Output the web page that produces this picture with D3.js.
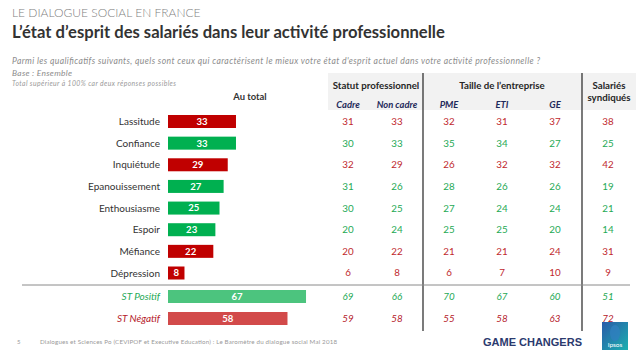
<!DOCTYPE html>
<html><head><meta charset="utf-8">
<script src="https://cdn.jsdelivr.net/npm/d3@7"></script>
<style>
body{margin:0;background:#fff;}
svg{display:block;font-family:Lato,"Open Sans",sans-serif;}
</style></head>
<body>
<script>
const categories = ["Lassitude","Confiance","Inquiétude","Epanouissement","Enthousiasme","Espoir","Méfiance","Dépression"];
const polarity = ["neg","pos","neg","pos","pos","pos","neg","neg"];
const totals = [33,33,29,27,25,23,22,8];
const columns = ["Cadre","Non cadre","PME","ETI","GE","Syndiqués"];
const tableValues = [
  [31,33,32,31,37,38],
  [30,33,35,34,27,25],
  [32,29,26,32,32,42],
  [31,26,28,26,26,19],
  [30,25,27,24,24,21],
  [20,24,25,25,20,14],
  [20,22,21,21,24,31],
  [6,8,6,7,10,9]
];
const stCategories = ["ST Positif","ST Négatif"];
const stPolarity = ["pos","neg"];
const stTotals = [67,58];
const stValues = [
  [69,66,70,67,60,51],
  [59,58,55,58,63,72]
];

const W=638,H=359;
const svg=d3.select("body").append("svg").attr("width",W).attr("height",H);

const RED="#c00000", GREEN="#00b050", STGREEN="#4cc47e", STRED="#d24a4a";
const colBar = p => p==="neg"?RED:GREEN;
const colTxt = p => p==="neg"?"#c0282d":"#1ea955";

// titles
svg.append("text").attr("x",12).attr("y",17).attr("font-size",12).attr("fill","#7f7f7f").attr("font-weight",300)
  .text("LE DIALOGUE SOCIAL EN FRANCE");
svg.append("text").attr("x",12).attr("y",38).attr("font-size",16.6).attr("font-weight",700).attr("fill","#333")
  .text("L’état d’esprit des salariés dans leur activité professionnelle");
svg.append("text").attr("x",12).attr("y",64).attr("font-size",8.6).attr("font-style","italic").attr("fill","#8c8c8c")
  .attr("textLength",528).attr("lengthAdjust","spacing")
  .text("Parmi les qualificatifs suivants, quels sont ceux qui caractérisent le mieux votre état d'esprit actuel dans votre activité professionnelle ?");
svg.append("text").attr("x",12).attr("y",75.5).attr("font-size",8.4).attr("font-style","italic").attr("fill","#8c8c8c")
  .attr("textLength",60).attr("lengthAdjust","spacing").text("Base : Ensemble");
svg.append("text").attr("x",12).attr("y",85.5).attr("font-size",6.8).attr("font-style","italic").attr("fill","#9a9a9a")
  .attr("textLength",164).attr("lengthAdjust","spacing")
  .text("Total supérieur à 100% car deux réponses possibles");

// scales
const x = d3.scaleLinear().domain([0,100]).range([168,374]);
const y = d3.scalePoint().domain(categories).range([121.5,273]);
const yST = d3.scalePoint().domain(stCategories).range([296.5,318.5]);
const colX = d3.scaleOrdinal().domain(columns).range([348,397,449,502,555,608]);
const barH = 13;

// header
svg.append("rect").attr("x",328).attr("y",73).attr("width",308).attr("height",37).attr("fill","#f2f2f2");
svg.append("text").attr("x",250).attr("y",100).attr("text-anchor","middle").attr("font-size",9.4).attr("font-weight",700).attr("fill","#333").text("Au total");
const hdr=[["Statut professionnel",376,89],["Taille de l’entreprise",502,89],["Salariés",609,89],["syndiqués",609,101]];
svg.selectAll(".hdr").data(hdr).join("text").attr("x",d=>d[1]).attr("y",d=>d[2]).attr("text-anchor","middle")
  .attr("font-size",9.7).attr("font-weight",700).attr("fill","#262626").text(d=>d[0]);
svg.selectAll(".sub").data(columns.slice(0,5)).join("text").attr("x",d=>colX(d)).attr("y",107.5).attr("text-anchor","middle")
  .attr("font-size",9.4).attr("font-weight",700).attr("font-style","italic").attr("fill","#1f2a5a").text(d=>d);

// lines
[423,582].forEach(lx=>svg.append("line").attr("x1",lx).attr("x2",lx).attr("y1",73).attr("y2",331).attr("stroke","#222").attr("stroke-width",1.2));
svg.append("line").attr("x1",22).attr("x2",630).attr("y1",285).attr("y2",285).attr("stroke","#8a8a8a").attr("stroke-width",1);

// main rows
const g=svg.append("g");
categories.forEach((c,i)=>{
  const cy=y(c);
  g.append("text").attr("x",160).attr("y",cy).attr("dy","0.35em").attr("text-anchor","end").attr("font-size",10).attr("fill","#333").text(c);
  g.append("rect").attr("x",x(0)).attr("y",cy-barH/2).attr("width",x(totals[i])-x(0)).attr("height",barH).attr("fill",colBar(polarity[i]));
  g.append("text").attr("x",(x(0)+x(totals[i]))/2).attr("y",cy).attr("dy","0.35em").attr("text-anchor","middle")
    .attr("font-size",9.6).attr("font-weight",700).attr("fill","#fff").text(totals[i]);
  tableValues[i].forEach((v,j)=>{
    g.append("text").attr("x",colX(columns[j])).attr("y",cy).attr("dy","0.35em").attr("text-anchor","middle")
      .attr("font-size",9.8).attr("fill",colTxt(polarity[i])).text(v);
  });
});

// ST rows
stCategories.forEach((c,i)=>{
  const cy=yST(c);
  const tc = stPolarity[i]==="pos"?"#1ea955":"#b5202a";
  g.append("text").attr("x",160).attr("y",cy).attr("dy","0.35em").attr("text-anchor","end").attr("font-size",10).attr("font-style","italic").attr("fill",tc).text(c);
  g.append("rect").attr("x",x(0)).attr("y",cy-barH/2).attr("width",x(stTotals[i])-x(0)).attr("height",barH).attr("fill",stPolarity[i]==="pos"?STGREEN:STRED);
  g.append("text").attr("x",(x(0)+x(stTotals[i]))/2).attr("y",cy).attr("dy","0.35em").attr("text-anchor","middle")
    .attr("font-size",9.6).attr("font-weight",700).attr("fill","#fff").text(stTotals[i]);
  stValues[i].forEach((v,j)=>{
    g.append("text").attr("x",colX(columns[j])).attr("y",cy).attr("dy","0.35em").attr("text-anchor","middle")
      .attr("font-size",9.8).attr("font-style","italic").attr("fill",tc).text(v);
  });
});

// footer
svg.append("text").attr("x",17).attr("y",344).attr("font-size",6).attr("fill","#999").text("5");
svg.append("text").attr("x",40).attr("y",344).attr("font-size",6.2).attr("fill","#999")
  .attr("textLength",297).attr("lengthAdjust","spacing")
  .text("Dialogues et Sciences Po (CEVIPOF et Executive Education) : Le Baromètre du dialogue social Mai 2018");
svg.append("text").attr("x",582).attr("y",346).attr("text-anchor","end").attr("font-size",11).attr("font-weight",900)
  .attr("font-family","'Liberation Sans',Arial,sans-serif").attr("fill","#2b3a6e").text("GAME CHANGERS");
const defs=svg.append("defs");
const lg=defs.append("linearGradient").attr("id","ipg").attr("x1","0").attr("y1","0").attr("x2","1").attr("y2","1");
lg.append("stop").attr("offset","0").attr("stop-color","#2a5aa8");
lg.append("stop").attr("offset","1").attr("stop-color","#1ab0b0");
svg.append("rect").attr("x",602).attr("y",322).attr("width",26).attr("height",28).attr("fill","url(#ipg)");
svg.append("ellipse").attr("cx",615).attr("cy",333).attr("rx",5).attr("ry",8).attr("fill","#2f7fbf").attr("opacity",0.8);
svg.append("text").attr("x",615).attr("y",347).attr("text-anchor","middle").attr("font-size",6.5).attr("fill","#fff").text("Ipsos");
</script>
</body></html>
